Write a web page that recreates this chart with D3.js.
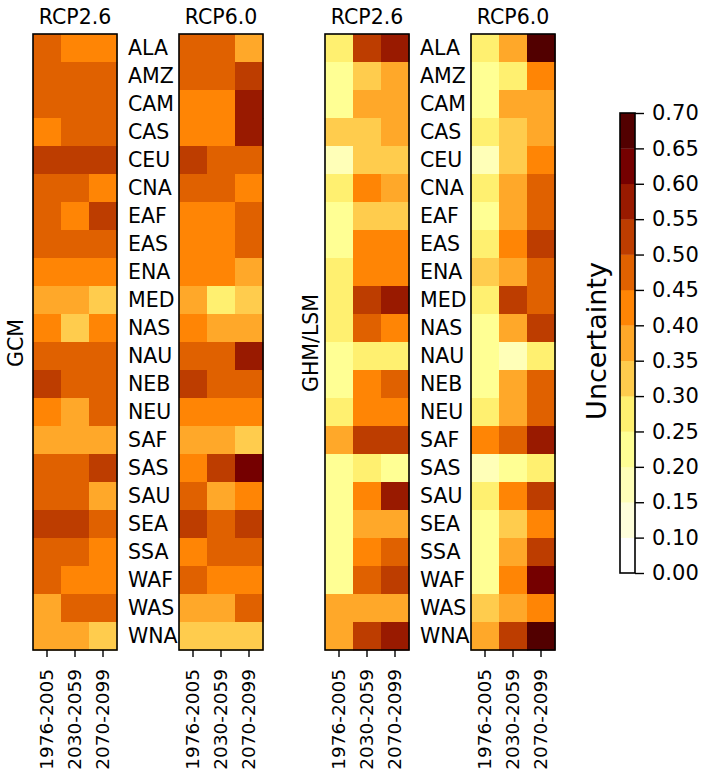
<!DOCTYPE html>
<html lang="en">
<head>
  <meta charset="UTF-8" />
  <title>Uncertainty heatmaps</title>
  <script src="https://d3js.org/d3.v7.min.js"></script>
  <style>
    body {
      margin: 0;
      background: #fff;
      font-family: "DejaVu Sans", sans-serif;
    }
    svg text {
      fill: #000;
    }
  </style>
</head>
<body>
  <svg id="chart" width="704" height="772"></svg>
  <script>
    const regions = ["ALA", "AMZ", "CAM", "CAS", "CEU", "CNA", "EAF", "EAS", "ENA", "MED", "NAS",
      "NAU", "NEB", "NEU", "SAF", "SAS", "SAU", "SEA", "SSA", "WAF", "WAS", "WNA"];
    const periods = ["1976-2005", "2030-2059", "2070-2099"];
    const scenarios = ["RCP2.6", "RCP6.0"];
    const groups = ["GCM", "GHM/LSM"];

    // one row per region, one value per period
    const gcmRcp26 = [
      [.47, .42, .42], [.47, .47, .47], [.47, .47, .47], [.42, .47, .47], [.52, .52, .52],
      [.47, .47, .42], [.47, .42, .52], [.47, .47, .47], [.42, .42, .42], [.37, .37, .32],
      [.42, .32, .42], [.47, .47, .47], [.52, .47, .47], [.42, .37, .47], [.37, .37, .37],
      [.47, .47, .52], [.47, .47, .37], [.52, .52, .47], [.47, .47, .42], [.47, .42, .42],
      [.37, .47, .47], [.37, .37, .32]
    ];
    const gcmRcp60 = [
      [.47, .47, .37], [.47, .47, .52], [.42, .42, .57], [.42, .42, .57], [.52, .47, .47],
      [.47, .47, .42], [.42, .42, .47], [.42, .42, .47], [.42, .42, .37], [.37, .27, .32],
      [.42, .37, .37], [.47, .47, .57], [.52, .47, .47], [.42, .42, .42], [.37, .37, .32],
      [.42, .52, .62], [.47, .37, .42], [.52, .47, .52], [.42, .47, .47], [.47, .42, .42],
      [.37, .37, .47], [.32, .32, .32]
    ];
    const ghmRcp26 = [
      [.27, .52, .57], [.22, .32, .37], [.22, .37, .37], [.32, .32, .37], [.17, .32, .32],
      [.27, .42, .37], [.22, .32, .32], [.22, .42, .42], [.27, .42, .42], [.27, .52, .57],
      [.27, .47, .42], [.22, .27, .27], [.22, .42, .47], [.27, .42, .42], [.37, .52, .52],
      [.22, .27, .22], [.22, .42, .57], [.22, .37, .37], [.22, .42, .47], [.22, .47, .52],
      [.37, .37, .37], [.37, .52, .57]
    ];
    const ghmRcp60 = [
      [.27, .37, .67], [.22, .27, .42], [.22, .37, .37], [.27, .32, .37], [.17, .32, .42],
      [.27, .37, .47], [.22, .37, .47], [.27, .42, .52], [.32, .37, .47], [.27, .52, .47],
      [.22, .37, .52], [.22, .17, .27], [.22, .37, .47], [.27, .37, .47], [.42, .47, .57],
      [.17, .22, .27], [.27, .42, .52], [.22, .32, .42], [.22, .37, .52], [.22, .42, .62],
      [.32, .37, .42], [.37, .52, .67]
    ];

    const levels = [0.00, 0.10, 0.15, 0.20, 0.25, 0.30, 0.35, 0.40, 0.45, 0.50, 0.55, 0.60, 0.65, 0.70];
    const levelColors = ["#ffffff", "#ffffdb", "#ffffb8", "#ffff94", "#fff070", "#ffcc4d", "#ffa829",
      "#ff8505", "#e06100", "#bd3d00", "#991a00", "#750000", "#520000"];

    const color = d3.scaleThreshold()
      .domain(levels.slice(1, -1))
      .range(levelColors);

    const svg = d3.select("#chart");
    const font = "DejaVu Sans";

    const panelW = 84, plotTop = 34, plotBottom = 650;
    const panels = [
      { data: gcmRcp26, x0: 33, title: scenarios[0], labels: true },
      { data: gcmRcp60, x0: 179, title: scenarios[1], labels: false },
      { data: ghmRcp26, x0: 325, title: scenarios[0], labels: true },
      { data: ghmRcp60, x0: 471, title: scenarios[1], labels: false }
    ];

    const x = d3.scaleBand().domain(periods).range([0, panelW]);
    const y = d3.scaleBand().domain(regions).range([plotTop, plotBottom]);

    panels.forEach(p => {
      const g = svg.append("g").attr("transform", `translate(${p.x0},0)`);

      const cells = [];
      p.data.forEach((row, i) => row.forEach((v, j) => cells.push({ r: regions[i], t: periods[j], v })));

      g.selectAll("rect.cell")
        .data(cells)
        .join("rect")
        .attr("class", "cell")
        .attr("x", d => x(d.t))
        .attr("y", d => y(d.r))
        .attr("width", x.bandwidth() + 0.5)
        .attr("height", y.bandwidth() + 0.5)
        .attr("fill", d => color(d.v));

      g.append("rect")
        .attr("x", 0).attr("y", plotTop)
        .attr("width", panelW).attr("height", plotBottom - plotTop)
        .attr("fill", "none")
        .attr("stroke", "#000")
        .attr("stroke-width", 1.6);

      g.append("text")
        .attr("x", panelW / 2).attr("y", 24)
        .attr("text-anchor", "middle")
        .attr("font-family", font).attr("font-size", 20.5)
        .text(p.title);

      // x ticks
      const xAxis = g.append("g")
        .attr("transform", `translate(0,${plotBottom})`)
        .call(d3.axisBottom(x).tickSize(7).tickSizeOuter(0));
      xAxis.select(".domain").remove();
      xAxis.selectAll("line").attr("stroke", "#000").attr("stroke-width", 1.4);
      xAxis.selectAll("text")
        .attr("font-family", font).attr("font-size", 18.5)
        .attr("text-anchor", "end")
        .attr("x", 0).attr("y", 0).attr("dy", "0.35em")
        .attr("transform", "translate(0,19) rotate(-90)");

      if (p.labels) {
        g.selectAll("text.region")
          .data(regions)
          .join("text")
          .attr("class", "region")
          .attr("x", panelW + 11)
          .attr("y", d => y(d) + y.bandwidth() / 2)
          .attr("dy", "0.36em")
          .attr("font-family", font).attr("font-size", 20.5)
          .text(d => d);
      }
    });

    // group labels
    [[groups[0], 23], [groups[1], 318]].forEach(([t, gx]) => {
      svg.append("text")
        .attr("transform", `translate(${gx},343) rotate(-90)`)
        .attr("text-anchor", "middle")
        .attr("font-family", font).attr("font-size", 20.5)
        .text(t);
    });

    // colorbar
    const cbX = 620, cbW = 15, cbTop = 113, cbBottom = 573;
    const cy = d3.scalePoint().domain(d3.range(levels.length)).range([cbBottom, cbTop]);
    const cb = svg.append("g");
    cb.selectAll("rect")
      .data(levelColors)
      .join("rect")
      .attr("x", cbX)
      .attr("y", (d, i) => cy(i + 1))
      .attr("width", cbW)
      .attr("height", (d, i) => cy(i) - cy(i + 1) + 0.3)
      .attr("fill", d => d);
    cb.append("rect")
      .attr("x", cbX).attr("y", cbTop)
      .attr("width", cbW).attr("height", cbBottom - cbTop)
      .attr("fill", "none").attr("stroke", "#000").attr("stroke-width", 1.6);

    const cAxis = cb.append("g")
      .attr("transform", `translate(${cbX + cbW},0)`)
      .call(d3.axisRight(cy).tickSize(9).tickFormat(i => levels[i].toFixed(2)));
    cAxis.select(".domain").remove();
    cAxis.selectAll("line").attr("stroke", "#000").attr("stroke-width", 1.4);
    cAxis.selectAll("text")
      .attr("font-family", font).attr("font-size", 21)
      .attr("x", 17);

    svg.append("text")
      .attr("transform", `translate(606,341) rotate(-90)`)
      .attr("text-anchor", "middle")
      .attr("font-family", font).attr("font-size", 27)
      .text("Uncertainty");
  </script>
</body>
</html>
